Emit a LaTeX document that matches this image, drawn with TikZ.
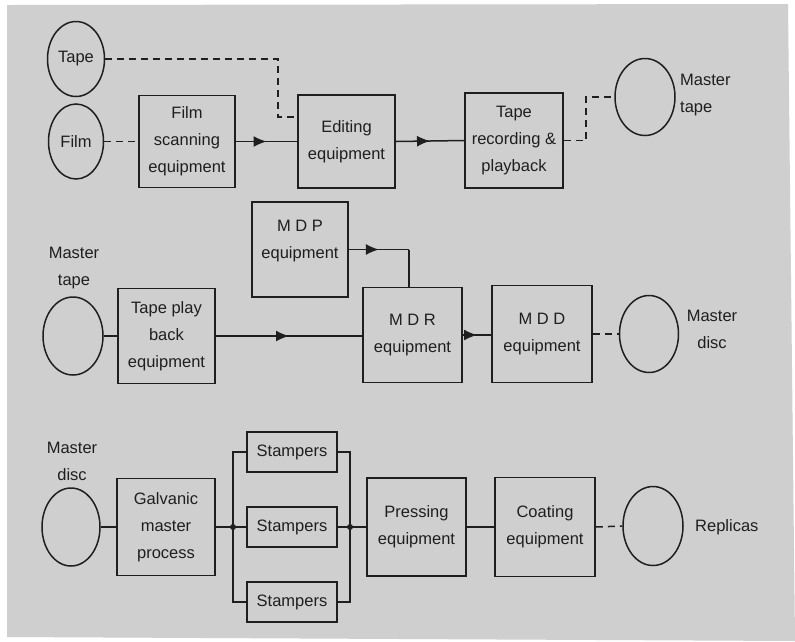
\documentclass[tikz,border=0pt]{standalone}
\usepackage{fontspec}
\setmainfont{Liberation Sans}
\usetikzlibrary{shapes.geometric,arrows.meta,decorations.markings}

\definecolor{paper}{gray}{0.81}
\definecolor{ink}{gray}{0.12}

\tikzset{
  stage/.style={draw=ink, line width=1.6pt, inner sep=0pt, align=center,
    font=\fontsize{16.5}{27}\selectfont, text=ink},
  disc/.style={ellipse, draw=ink, line width=1.5pt, inner sep=0pt,
    font=\fontsize{16.5}{27}\selectfont, text=ink},
  caption/.style={inner sep=0pt, font=\fontsize{16.5}{27}\selectfont, text=ink},
  flow/.style={draw=ink, line width=1.5pt},
  dashflow/.style={draw=ink, line width=1.5pt, dash pattern=on 7pt off 5pt},
  midarrow/.style={decoration={markings,
      mark=at position 0.5 with {\arrow{Latex[length=13pt,width=11pt]}}},
    postaction={decorate}},
  junction/.style={circle, fill=ink, inner sep=0pt, minimum size=6pt},
}

\begin{document}
\begin{tikzpicture}[x=1pt, y=-1pt]
\useasboundingbox (0,0) rectangle (795,641);
% scanned page
\fill[white] (0,0) rectangle (795,641);
\fill[paper] (7,5) -- (788,4) -- (795,641) -- (7,637) -- cycle;

% ---------- first row: film and tape to master tape ----------
\node[disc, minimum width=57pt, minimum height=75pt] (tape) at (76,59) {Tape};
\node[disc, minimum width=55pt, minimum height=75pt] (film) at (76,141.5) {Film};
\node[stage, minimum width=96pt, minimum height=92pt] (scan) at (187,141.5)
  {Film\\scanning\\equipment};
\node[stage, minimum width=97pt, minimum height=93pt] (edit) at (346.5,141.5)
  {Editing\\equipment};
\node[stage, minimum width=98pt, minimum height=95pt] (taperec) at (514,140.5)
  {Tape\\recording \&\\playback};
\node[disc, minimum width=60pt, minimum height=77pt] (mtapeA) at (645,97) {};
\node[caption, anchor=west, align=left] (mtapeAlbl) at (680,95) {Master\\tape};

\coordinate (k1) at (278,117);
\coordinate (k2) at (586,140.5);
\draw[dashflow] (tape.east) -| (k1) -- (k1 -| edit.west);
\draw[dashflow] (film.east) -- (scan.west);
\draw[flow, midarrow] (scan.east) -- (edit.west);
\draw[flow, midarrow] (edit.east) -- (taperec.west);
\draw[dashflow] (taperec.east) -- (k2) |- (mtapeA.west);

% ---------- second row: master tape to master disc ----------
\node[disc, minimum width=60pt, minimum height=78pt] (mtapeB) at (73,336) {};
\node[caption, align=center] (mtapeBlbl) at (74,268) {Master\\tape};
\node[stage, minimum width=97pt, minimum height=95pt] (tpb) at (166.5,336)
  {Tape play\\back\\equipment};
\node[stage, minimum width=96pt, minimum height=95pt] (mdp) at (300,249.5) {};
\node[caption, align=center] (mdptxt) at ([yshift=8pt]mdp.center) {M D P\\equipment};
\node[stage, minimum width=99pt, minimum height=95pt] (mdr) at (412.5,335)
  {M D R\\equipment};
\node[stage, minimum width=100pt, minimum height=97pt] (mdd) at (542,334)
  {M D D\\equipment};
\node[disc, minimum width=59pt, minimum height=77pt] (mdiscA) at (649,334) {};
\node[caption, align=center] (mdiscAlbl) at (712,329) {Master\\disc};

\coordinate (k3) at (409,249.5);
\draw[flow] (mtapeB.east) -- (tpb.west);
\draw[flow, midarrow] (tpb.east) -- (tpb.east -| mdr.west);
\draw[flow, midarrow] (mdp.east) -- (k3);
\draw[flow] (k3) -- (k3 |- mdr.north);
\draw[flow, midarrow] (mdr.east) -- (mdr.east -| mdd.west);
\draw[dashflow] (mdd.east) -- (mdiscA.west);

% ---------- third row: master disc to replicas ----------
\node[disc, minimum width=58pt, minimum height=78pt] (mdiscB) at (71,527) {};
\node[caption, align=center] (mdiscBlbl) at (72,461.5) {Master\\disc};
\node[stage, minimum width=98pt, minimum height=97pt] (galv) at (166,527)
  {Galvanic\\master\\process};
\node[stage, minimum width=90pt, minimum height=40pt] (stA) at (292,452) {Stampers};
\node[stage, minimum width=90pt, minimum height=40pt] (stB) at (292,527) {Stampers};
\node[stage, minimum width=90pt, minimum height=40pt] (stC) at (292,602) {Stampers};
\node[stage, minimum width=99pt, minimum height=98pt] (press) at (416.5,527)
  {Pressing\\equipment};
\node[stage, minimum width=100pt, minimum height=99pt] (coat) at (545,527)
  {Coating\\equipment};
\node[disc, minimum width=60pt, minimum height=79pt] (repl) at (653,526) {};
\node[caption, anchor=west] (repllbl) at (695,527) {Replicas};

\coordinate (bl) at (233,527);
\coordinate (br) at (350,527);
\draw[flow] (mdiscB.east) -- (galv.west);
\draw[flow] (galv.east) -- (bl);
\draw[flow] (stA.west) -| (bl) |- (stC.west);
\draw[flow] (bl) -- (stB.west);
\draw[flow] (stA.east) -| (br) |- (stC.east);
\draw[flow] (stB.east) -- (br) -- (press.west);
\node[junction] (jl) at (bl) {};
\node[junction] (jr) at (br) {};
\draw[flow] (press.east) -- (coat.west);
\draw[dashflow] (coat.east) -- (repl.west);
\end{tikzpicture}
\end{document}
